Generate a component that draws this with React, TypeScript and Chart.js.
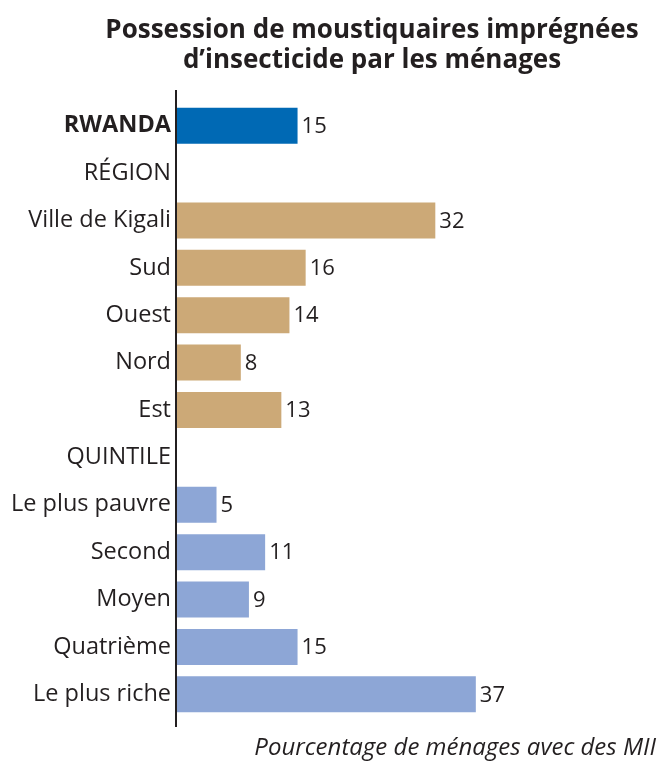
import { useEffect, useRef } from "react";
import { Chart, registerables } from "chart.js";

Chart.register(...registerables);

const categories = [
  "RWANDA",
  "RÉGION",
  "Ville de Kigali",
  "Sud",
  "Ouest",
  "Nord",
  "Est",
  "QUINTILE",
  "Le plus pauvre",
  "Second",
  "Moyen",
  "Quatrième",
  "Le plus riche",
];
const values: (number | null)[] = [15, null, 32, 16, 14, 8, 13, null, 5, 11, 9, 15, 37];
const groups = [
  "total",
  "header",
  "region",
  "region",
  "region",
  "region",
  "region",
  "header",
  "quintile",
  "quintile",
  "quintile",
  "quintile",
  "quintile",
];
const groupColors: Record<string, string> = {
  total: "#0069B4",
  region: "#CCA977",
  quintile: "#8DA6D6",
  header: "rgba(0,0,0,0)",
};
const titleLines = ["Possession de moustiquaires imprégnées", "d’insecticide par les ménages"];
const xAxisTitle = "Pourcentage de ménages avec des MII";

const FONT = "'Open Sans', sans-serif";
const TEXT = "#231F20";

export default function App() {
  const ref = useRef<HTMLCanvasElement>(null);

  useEffect(() => {
    document.body.style.margin = "0";
    const overlay = {
      id: "overlay",
      afterDraw(chart: any) {
        const { ctx, chartArea } = chart;
        ctx.save();
        ctx.strokeStyle = TEXT;
        ctx.lineWidth = 2;
        ctx.beginPath();
        ctx.moveTo(chartArea.left, chartArea.top - 12);
        ctx.lineTo(chartArea.left, chartArea.bottom + 9);
        ctx.stroke();

        const meta = chart.getDatasetMeta(0);
        ctx.font = `22px ${FONT}`;
        ctx.fillStyle = TEXT;
        ctx.textBaseline = "middle";
        ctx.textAlign = "left";
        meta.data.forEach((bar: any, i: number) => {
          const v = values[i];
          if (v == null) return;
          ctx.fillText(String(v), bar.x + 4, bar.y + 1);
        });

        ctx.font = `bold 26px ${FONT}`;
        ctx.textAlign = "center";
        titleLines.forEach((t, i) => ctx.fillText(t, 372, 31 + i * 30));

        ctx.font = `italic 24px ${FONT}`;
        ctx.textAlign = "right";
        ctx.fillText(xAxisTitle, 656, 748);
        ctx.restore();
      },
    };

    const chart = new Chart(ref.current!, {
      type: "bar",
      data: {
        labels: categories,
        datasets: [
          {
            data: values as any,
            backgroundColor: groups.map((g) => groupColors[g]),
            borderWidth: 0,
            barPercentage: 0.76,
            categoryPercentage: 1,
          },
        ],
      },
      options: {
        indexAxis: "y",
        animation: false,
        responsive: true,
        maintainAspectRatio: false,
        layout: { padding: { top: 102, bottom: 46, left: 0, right: 12 } },
        plugins: {
          legend: { display: false },
          tooltip: { enabled: false },
          title: { display: false },
        },
        scales: {
          x: { min: 0, max: 58, display: false },
          y: {
            grid: { display: false },
            border: { display: false },
            ticks: {
              color: TEXT,
              padding: -3,
              font: (c: any) => ({
                family: FONT,
                size: 23.5,
                weight: c.index === 0 ? "bold" : "normal",
              }),
            },
            afterFit: (s: any) => {
              s.width = 176;
            },
          },
        },
      },
      plugins: [overlay],
    });
    return () => chart.destroy();
  }, []);

  return (
    <div style={{ position: "relative", width: 658, height: 764 }}>
      <canvas ref={ref} />
    </div>
  );
}
